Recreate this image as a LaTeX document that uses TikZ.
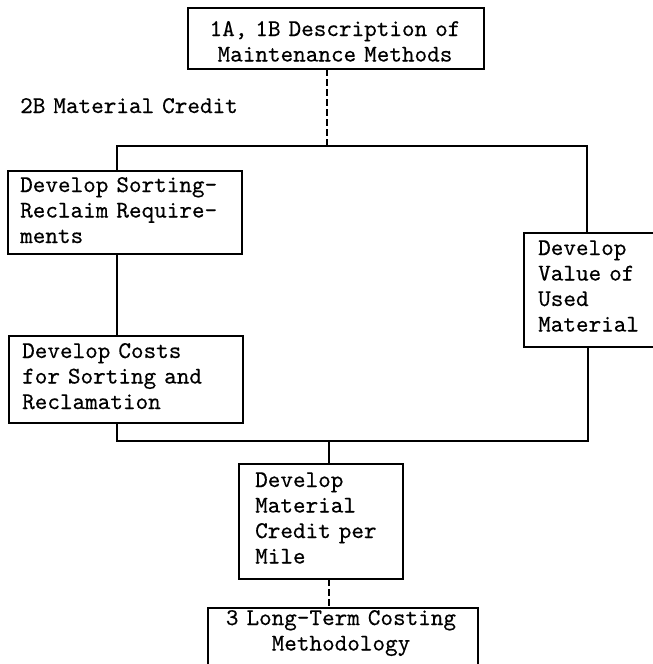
\documentclass[tikz,border=0pt]{standalone}
\usepackage{fontspec}
\newfontfamily\typewriter[FakeBold=0.35]{lmmono10-regular.otf}
\begin{document}
\begin{tikzpicture}[
  x=1pt, y=-1pt,
  wire/.style={line width=1.5pt, line cap=rect},
  gap/.style={wire, dash pattern=on 6pt off 4pt},
  frame/.style={draw, line width=1.5pt, inner sep=0pt, anchor=north west},
  words/.style={font=\typewriter\fontsize{24}{25.5}\selectfont, inner sep=0pt,
    text width=#1, align=left, anchor=base west},
  words/.default=230pt,
  cwords/.style={font=\typewriter\fontsize{24}{25.5}\selectfont, inner sep=0pt,
    text width=#1, align=center, anchor=base},
  cwords/.default=280pt
]
\fill[white] (0,0) rectangle (653,664);
\useasboundingbox (0,0) rectangle (653,664);

% boxes
\node[frame, minimum width=296pt, minimum height=61pt]  (top)    at (187,7)   {};
\node[frame, minimum width=234pt, minimum height=83pt]  (sort)   at (7,170)   {};
\node[frame, minimum width=234pt, minimum height=87pt]  (costs)  at (8,335)   {};
\node[frame, minimum width=150pt, minimum height=114pt] (value)  at (523,232) {};
\node[frame, minimum width=164pt, minimum height=115pt] (credit) at (238,463) {};
\node[frame, minimum width=270pt, minimum height=90pt]  (ltc)    at (207,607) {};

% texts
\node[cwords=296pt] (topT) at (335,36) {1A, 1B Description of\\Maintenance Methods};
\node[words] (head) at (20,113) {2B Material Credit};
\node[words=215pt] (sortT) at (20,192) {Develop Sorting-\\Reclaim Require-\\ments};
\node[words=215pt] (costsT) at (22,358) {Develop Costs\\for Sorting and\\Reclamation};
\node[words=115pt] (valueT) at (538,255) {Develop\\Value of\\Used\\Material};
\node[words=140pt] (creditT) at (255,487) {Develop\\Material\\Credit per\\Mile};
\node[cwords=270pt] (ltcT) at (341,625) {3 Long-Term Costing\\Methodology};

% bus corners
\coordinate (drop)  at (327,146);
\coordinate (busTL) at (117,146);
\coordinate (busTR) at (587,146);
\coordinate (busBL) at (117,441);
\coordinate (busBR) at (588,441);
\coordinate (busM)  at (329,441);

% connectors
\draw[gap] (top.south -| drop) -- (drop);
\draw[wire] (sort.north -| busTL) -- (busTL) -- (busTR) -- (value.north -| busTR);
\draw[wire] (sort.south -| busTL) -- (costs.north -| busTL);
\draw[wire] (costs.south -| busBL) -- (busBL) -- (busBR) -- (value.south -| busBR);
\draw[wire] (busM) -- (credit.north -| busM);
\draw[gap] (credit.south -| busM) -- (ltc.north -| busM);
\end{tikzpicture}
\end{document}
